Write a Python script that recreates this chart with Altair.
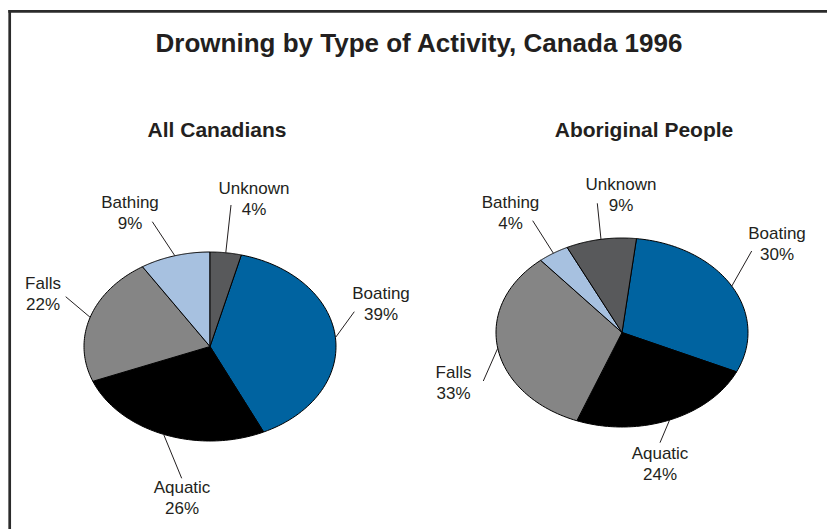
import altair as alt
import pandas as pd

# ---------------- data ----------------
PIES = ["All Canadians", "Aboriginal People"]
CATEGORIES = ["Boating", "Aquatic", "Falls", "Bathing", "Unknown"]
ALL_CANADIANS = [39, 26, 22, 9, 4]
ABORIGINAL = [30, 24, 33, 4, 9]
TITLE = "Drowning by Type of Activity, Canada 1996"

COLORS = ["#0063a0", "#000000", "#858585", "#a7c1e0", "#58595b"]

# ---------------- layout (pixels) ----------------
W, H = 827, 529
RX, RY = 126, 94.5
CENTER = {"All Canadians": (210, 346.5), "Aboriginal People": (622, 332.5)}
START_DEG = {"All Canadians": 14.4, "Aboriginal People": 6.6}
SUB_X = {"All Canadians": 217, "Aboriginal People": 644}
# label centre x, first-line baseline y, leader outer end x, y
LABEL_LAYOUT = {
    "All Canadians": {
        "Boating": (381, 298.5, 354.3, 311.7),
        "Aquatic": (182, 492.5, 181.7, 478.3),
        "Falls": (43, 289, 65.7, 296.7),
        "Bathing": (130, 207.5, 152.3, 221.7),
        "Unknown": (254, 194, 231, 205),
    },
    "Aboriginal People": {
        "Boating": (777, 238.5, 751.7, 251),
        "Aquatic": (660, 458.5, 660, 442.7),
        "Falls": (453.5, 377.5, 483.3, 381),
        "Bathing": (510.5, 207.5, 532.7, 220.7),
        "Unknown": (621, 190, 597.3, 203.3),
    },
}

rows = []
for pie, vals in zip(PIES, [ALL_CANADIANS, ABORIGINAL]):
    for i, (cat, v) in enumerate(zip(CATEGORIES, vals)):
        lx, ly, ex, ey = LABEL_LAYOUT[pie][cat]
        rows.append(dict(pie=pie, category=cat, value=v, order=i,
                         cx=CENTER[pie][0], cy=CENTER[pie][1], start=START_DEG[pie],
                         lx=lx, ly=ly, ex=ex, ey=ey))
df = pd.DataFrame(rows)

X_SCALE = alt.Scale(domain=[0, W], nice=False, zero=False)
Y_SCALE = alt.Scale(domain=[0, H], reverse=True, nice=False, zero=False)
FONT = "Liberation Sans"
TXT = "#231f20"
N = 72

base = alt.Chart(df).transform_window(
    cum="sum(value)", groupby=["pie"], sort=[alt.SortField("order")], frame=[None, 0]
).transform_joinaggregate(
    total="sum(value)", groupby=["pie"]
).transform_calculate(
    a0="(datum.start + 360*(datum.cum - datum.value)/datum.total)*PI/180",
    a1="(datum.start + 360*datum.cum/datum.total)*PI/180",
    key="datum.pie + '|' + datum.category",
)

slices = base.transform_calculate(
    idx=f"sequence(0, {N + 2})"
).transform_flatten(["idx"]).transform_calculate(
    ang=f"datum.a0 + (datum.a1 - datum.a0)*(datum.idx - 1)/{N}",
).transform_calculate(
    px=f"datum.idx == 0 ? datum.cx : datum.cx + {RX}*sin(datum.ang)",
    py=f"datum.idx == 0 ? datum.cy : datum.cy - {RY}*cos(datum.ang)",
).mark_line(
    interpolate="linear-closed", stroke="#000000", strokeWidth=1, strokeJoin="round"
).encode(
    x=alt.X("px:Q", scale=X_SCALE, axis=None),
    y=alt.Y("py:Q", scale=Y_SCALE, axis=None),
    fill=alt.Fill("category:N", scale=alt.Scale(domain=CATEGORIES, range=COLORS), legend=None),
    detail="key:N",
    order=alt.Order("idx:Q"),
)

leaders = base.transform_calculate(
    mid="(datum.a0 + datum.a1)/2",
).transform_calculate(
    ix=f"datum.cx + {RX}*sin(datum.mid)",
    iy=f"datum.cy - {RY}*cos(datum.mid)",
).mark_rule(color=TXT, strokeWidth=1).encode(
    x=alt.X("ix:Q", scale=X_SCALE, axis=None),
    y=alt.Y("iy:Q", scale=Y_SCALE, axis=None),
    x2="ex:Q",
    y2="ey:Q",
)

label1 = base.mark_text(font=FONT, fontSize=17, color=TXT, align="center", baseline="alphabetic").encode(
    x=alt.X("lx:Q", scale=X_SCALE, axis=None),
    y=alt.Y("ly:Q", scale=Y_SCALE, axis=None),
    text="category:N",
)
label2 = base.transform_calculate(
    pct="datum.value + '%'", ly2="datum.ly + 21"
).mark_text(font=FONT, fontSize=17, color=TXT, align="center", baseline="alphabetic").encode(
    x=alt.X("lx:Q", scale=X_SCALE, axis=None),
    y=alt.Y("ly2:Q", scale=Y_SCALE, axis=None),
    text="pct:N",
)

sub_df = pd.DataFrame({"pie": PIES, "sx": [SUB_X[p] for p in PIES]})
subtitles = alt.Chart(sub_df).mark_text(
    font=FONT, fontSize=21, fontWeight="bold", color=TXT, align="center", baseline="alphabetic"
).encode(
    x=alt.X("sx:Q", scale=X_SCALE, axis=None),
    y=alt.value(136.7),
    text="pie:N",
)

title = alt.Chart(pd.DataFrame({"t": [TITLE]})).mark_text(
    font=FONT, fontSize=26, fontWeight="bold", color=TXT, align="center", baseline="alphabetic"
).encode(x=alt.value(419), y=alt.value(52.3), text="t:N")

frame_top = alt.Chart(pd.DataFrame({"a": [0]})).mark_rule(color="#2b2b2b", strokeWidth=2.7).encode(
    x=alt.value(8.3), x2=alt.value(W), y=alt.value(11.3)
)
frame_left = alt.Chart(pd.DataFrame({"a": [0]})).mark_rule(color="#2b2b2b", strokeWidth=2.7).encode(
    x=alt.value(9.7), y=alt.value(10), y2=alt.value(H)
)

chart = alt.layer(
    slices, leaders, label1, label2, subtitles, title, frame_top, frame_left
).properties(
    width=W, height=H, autosize=alt.AutoSizeParams(type="none"), padding=0, background="white"
).configure_view(stroke=None)

chart.save("out.html", embed_options={"renderer": "svg", "actions": False})
